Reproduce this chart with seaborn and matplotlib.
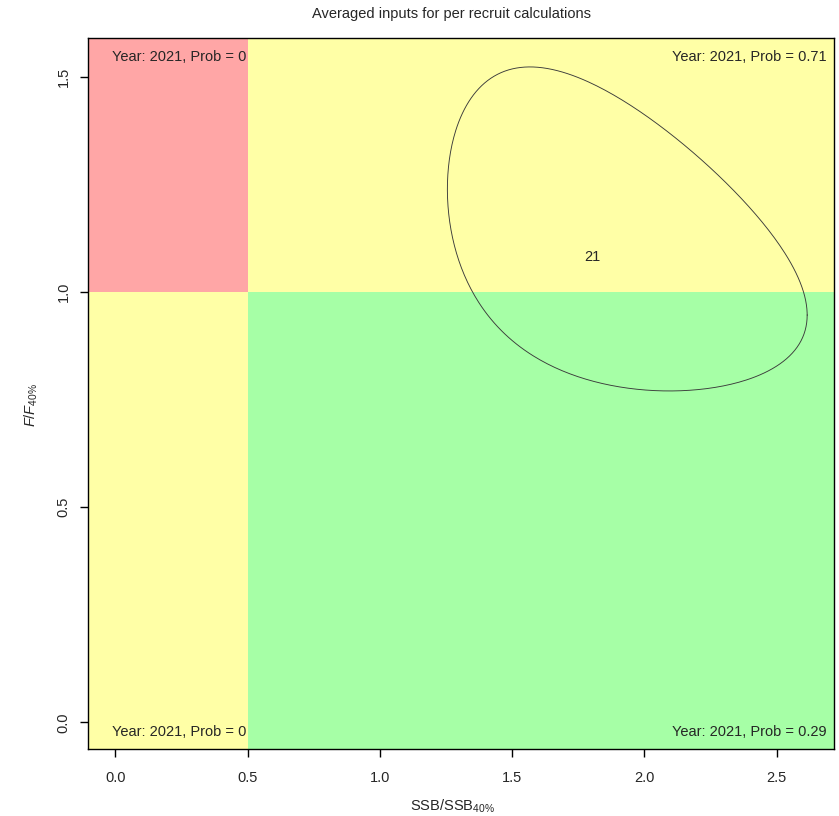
import numpy as np
import pandas as pd
import seaborn as sns
import matplotlib.pyplot as plt
from matplotlib.patches import Rectangle

# reference points and plot limits
ssb_ref = 0.5
f_ref = 1.0
x_lim = [-0.105, 2.718]
y_lim = [-0.062, 1.591]

# quadrant colours and probability labels
quad_colors = ['#FFA6A6', '#FFFFA6', '#FFFFA6', '#A6FFA6']
quad_probs = ['0', '0.71', '0', '0.29']
year = 2021

# confidence region, estimated in log space
center_ssb = 1.812
center_f = 1.083
log_sd_ssb = 0.367
log_sd_f = 0.341
log_rho = -0.395
label_xy = [1.805, 1.081]
center_label = '21'


if __name__ == '__main__':
    sns.set_style('ticks')
    plt.rcParams['font.family'] = ['Liberation Sans', 'DejaVu Sans']
    plt.rcParams['mathtext.fontset'] = 'custom'
    plt.rcParams['mathtext.rm'] = 'Liberation Sans'
    plt.rcParams['mathtext.it'] = 'Liberation Sans:italic'
    fs = 10.5

    fig = plt.figure(figsize=(8.39, 8.16), dpi=100)
    ax = fig.add_axes([0.1043, 0.0821, 0.8901, 0.8717])

    # quadrants
    x0, x1 = x_lim
    y0, y1 = y_lim
    boxes = [(x0, f_ref, ssb_ref - x0, y1 - f_ref),
             (ssb_ref, f_ref, x1 - ssb_ref, y1 - f_ref),
             (x0, y0, ssb_ref - x0, f_ref - y0),
             (ssb_ref, y0, x1 - ssb_ref, f_ref - y0)]
    for (bx, by, bw, bh), col in zip(boxes, quad_colors):
        ax.add_patch(Rectangle((bx, by), bw, bh, facecolor=col, edgecolor='none', zorder=0))

    # ellipse (log-normal region)
    t = np.linspace(0, 2 * np.pi, 400)
    d = np.arccos(log_rho)
    ell = pd.DataFrame({
        'ssb': np.exp(np.log(center_ssb) + log_sd_ssb * np.cos(t)),
        'f': np.exp(np.log(center_f) + log_sd_f * np.cos(t + d)),
    })
    sns.lineplot(data=ell, x='ssb', y='f', sort=False, estimator=None,
                 color='#3a3a3a', linewidth=0.65, ax=ax)
    ax.text(label_xy[0], label_xy[1], center_label, ha='center', va='center', fontsize=fs)

    # probability labels
    txt = ['Year: %d, Prob = %s' % (year, p) for p in quad_probs]
    ax.text(0.497, 1.546, txt[0], ha='right', va='center', fontsize=fs)
    ax.text(2.69, 1.546, txt[1], ha='right', va='center', fontsize=fs)
    ax.text(0.497, -0.023, txt[2], ha='right', va='center', fontsize=fs)
    ax.text(2.69, -0.023, txt[3], ha='right', va='center', fontsize=fs)

    ax.set_xlim(x_lim)
    ax.set_ylim(y_lim)
    ax.set_xticks([0.0, 0.5, 1.0, 1.5, 2.0, 2.5])
    ax.set_xticklabels(['0.0', '0.5', '1.0', '1.5', '2.0', '2.5'])
    ax.set_yticks([0.0, 0.5, 1.0, 1.5])
    ax.set_yticklabels(['0.0', '0.5', '1.0', '1.5'], rotation=90, va='center')
    ax.tick_params(axis='both', length=6, width=1, color='black', labelsize=fs)
    ax.tick_params(axis='x', pad=10)
    ax.tick_params(axis='y', pad=6)
    for sp in ax.spines.values():
        sp.set_visible(True)
        sp.set_color('black')
        sp.set_linewidth(1)
        sp.set_zorder(5)

    ax.set_xlabel(r'SSB/SSB$_{\mathrm{40\%}}$', fontsize=fs, labelpad=9, x=0.488)
    ax.set_ylabel(r'$\mathit{F}/\mathit{F}_{\mathrm{40\%}}$', fontsize=fs, labelpad=12, y=0.484)
    ax.set_title('Averaged inputs for per recruit calculations', fontsize=fs, pad=14, x=0.488)

    plt.savefig('out.png', dpi=100)
    print("ok")
